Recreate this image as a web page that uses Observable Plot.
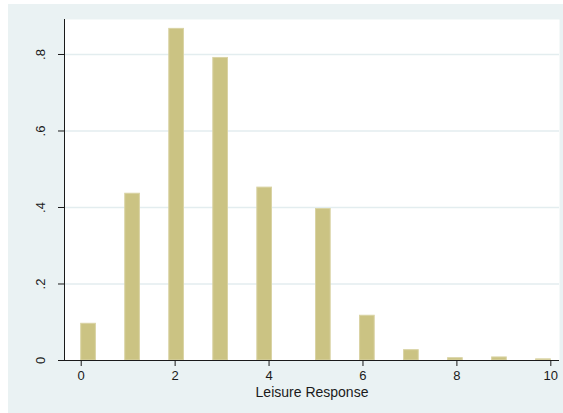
<!DOCTYPE html>
<html>
<head>
<meta charset="utf-8">
<script src="https://cdn.jsdelivr.net/npm/d3@7"></script>
<script src="https://cdn.jsdelivr.net/npm/@observablehq/plot@0.6"></script>
<style>
  html, body { margin: 0; padding: 0; background: #ffffff; }
  #chart { position: absolute; left: 8px; top: 4px; }
  svg { display: block; }
</style>
</head>
<body>
<div id="chart"></div>
<script>
// Response values (each falls in one of 32 equal-width histogram bins over 0..10)
const categories = [0, 1, 2, 3, 4, 5, 6, 7, 8, 9, 10];
// Density heights
const density = [0.096, 0.436, 0.867, 0.791, 0.452, 0.396, 0.117, 0.027, 0.006, 0.008, 0.003];
const binCount = 32;
const binRange = [0, 10];
const xTicks = [0, 2, 4, 6, 8, 10];
const yTicks = [0, 0.2, 0.4, 0.6, 0.8];
const yTickLabels = ["0", ".2", ".4", ".6", ".8"];
const xLabel = "Leisure Response";
const xDomain = [-0.356, 10.185];
const yDomain = [0, 0.8915];

const binWidth = (binRange[1] - binRange[0]) / binCount;
const bars = categories.map((c, i) => {
  const b = Math.min(Math.floor((c - binRange[0]) / binWidth + 1e-9), binCount - 1);
  return {x1: binRange[0] + b * binWidth, x2: binRange[0] + (b + 1) * binWidth, y: density[i]};
});

const ink = "#1a1a1a";
const chart = Plot.plot({
  width: 555,
  height: 409,
  marginLeft: 56,
  marginTop: 15,
  marginRight: 4,
  marginBottom: 53,
  style: {background: "#EAF2F3", fontFamily: "'Liberation Sans', Arial, sans-serif", fontSize: "13px", color: ink},
  x: {domain: xDomain, axis: null},
  y: {domain: yDomain, axis: null},
  marks: [
    Plot.frame({fill: "white", stroke: null}),
    Plot.gridY(yTicks.filter(d => d > 0), {stroke: "#E3EDEF", strokeOpacity: 1, strokeWidth: 1.5}),
    Plot.rectY(bars, {x1: "x1", x2: "x2", y: "y", fill: "#CBC383", stroke: "#D9D3A4", strokeWidth: 1}),
    Plot.ruleY([yDomain[0]], {stroke: ink, strokeWidth: 1}),
    Plot.ruleX([xDomain[0]], {stroke: ink, strokeWidth: 1}),
    Plot.axisX(xTicks, {tickSize: 6, tickPadding: 4, stroke: ink, fill: ink, fontSize: 13, label: null}),
    Plot.axisY(yTicks, {tickSize: 6, tickPadding: 14, tickRotate: -90, stroke: ink, fill: ink, fontSize: 13,
      tickFormat: (d) => yTickLabels[yTicks.indexOf(d)], label: null}),
    Plot.text([xLabel], {frameAnchor: "bottom", dy: 36, fontSize: 14, fill: ink})
  ]
});
document.getElementById("chart").appendChild(chart);
</script>
</body>
</html>
